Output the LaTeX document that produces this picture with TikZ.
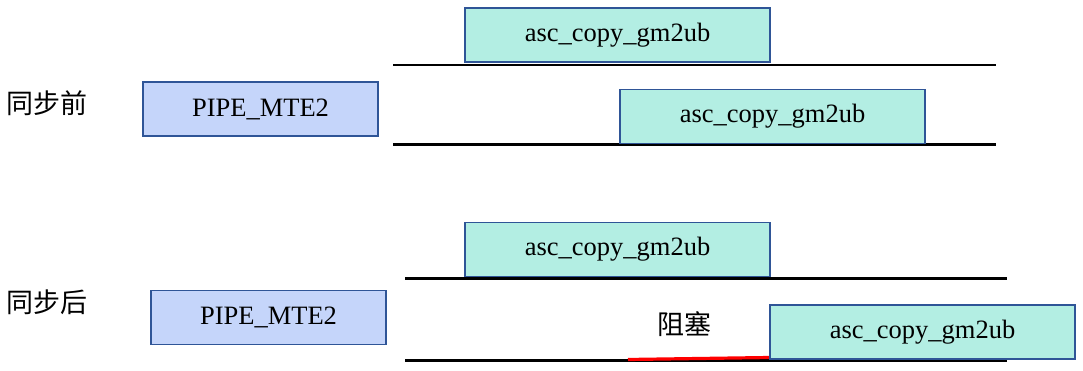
\documentclass[tikz,border=0pt]{standalone}
\usepackage{fontspec}
\setmainfont{Liberation Serif}
\newfontfamily\cjk{Noto Sans CJK SC}
\definecolor{boxborder}{HTML}{2F5597}
\definecolor{pipefill}{HTML}{C5D5FA}
\definecolor{ascfill}{HTML}{B3EEE3}
\begin{document}
\begin{tikzpicture}[x=1pt,y=-1pt,
  box/.style={draw=boxborder,line width=1.8pt,inner sep=0pt,minimum height=54pt,font=\fontsize{26.5}{30}\selectfont},
  pipebox/.style={box,fill=pipefill,minimum width=235pt},
  ascbox/.style={box,fill=ascfill,minimum width=305pt},
  lbl/.style={inner sep=0pt,font=\cjk\fontsize{27}{30}\selectfont},
  track/.style={line width=2.6pt,black}]
\useasboundingbox (0,0) rectangle (1083,371);
% before sync
\node[lbl] (before) at (47,103) {同步前};
\node[pipebox] (p1) at (260.5,109) {PIPE\_MTE2};
\coordinate (l1a) at (393,65);
\coordinate (l1b) at (996,65);
\coordinate (l2a) at (393,144.5);
\coordinate (l2b) at (996,144.5);
\draw[track] (l1a) -- (l1b);
\draw[track] (l2a) -- (l2b);
\node[ascbox] (a1) at (617.5,35) {asc\_copy\_gm2ub};
\node[ascbox] (a2) at (772.5,116.5) {asc\_copy\_gm2ub};
% after sync
\node[lbl] (after) at (47,302) {同步后};
\node[pipebox] (p2) at (268.5,317.5) {PIPE\_MTE2};
\coordinate (l3a) at (405,278.5);
\coordinate (l3b) at (1007,278.5);
\coordinate (l4a) at (405,360.5);
\coordinate (l4b) at (1007,360.5);
\coordinate (r1) at (628,359.5);
\coordinate (r2) at (770,357.5);
\draw[track] (l3a) -- (l3b);
\draw[track] (l4a) -- (l4b);
\draw[line width=3.2pt,red] (r1) -- (r2);
\node[ascbox] (a3) at (617.5,249.5) {asc\_copy\_gm2ub};
\node[ascbox] (a4) at (922.5,332) {asc\_copy\_gm2ub};
\node[lbl] (block) at (684,324) {阻塞};
\end{tikzpicture}
\end{document}
